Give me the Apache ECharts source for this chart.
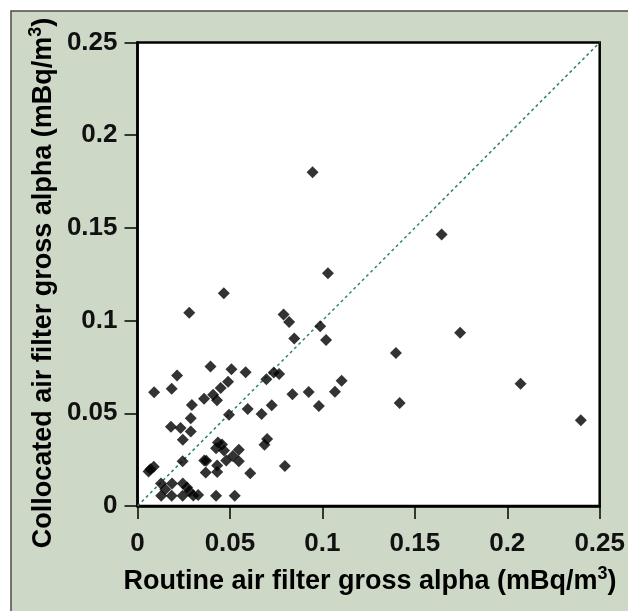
<!DOCTYPE html>
<html>
<head>
<meta charset="utf-8">
<script src="https://cdn.jsdelivr.net/npm/echarts@6/dist/echarts.min.js"></script>
<style>
html,body{margin:0;padding:0;background:#ffffff;}
#chart{width:628px;height:611px;}
</style>
</head>
<body>
<div id="chart"></div>
<script>
// Routine (x) vs collocated (y) gross alpha, mBq/m3
const routine = [
  0.0947,0.1645,0.1030,0.0467,0.0280,0.0790,0.0820,0.0988,0.0848,0.1020,
  0.1745,0.1398,0.0395,0.0508,0.0214,0.0585,0.0737,0.0766,0.0697,0.0490,
  0.1104,0.2072,0.0450,0.0185,0.0090,0.0926,0.1068,0.0409,0.0838,0.0360,
  0.0430,0.1418,0.0294,0.0726,0.0981,0.0596,0.0671,0.0495,0.0288,0.2398,
  0.0181,0.0233,0.0288,0.0245,0.0435,0.0457,0.0701,0.0687,0.0425,0.0468,
  0.0548,0.0516,0.0480,0.0548,0.0361,0.0372,0.0244,0.0431,0.0797,0.0088,
  0.0070,0.0060,0.0369,0.0431,0.0610,0.0127,0.0187,0.0245,0.0150,0.0268,
  0.0281,0.0128,0.0185,0.0244,0.0302,0.0328,0.0425,0.0526
];
const collocated = [
  0.1800,0.1465,0.1255,0.1148,0.1043,0.1033,0.0992,0.0970,0.0903,0.0895,
  0.0935,0.0825,0.0752,0.0738,0.0704,0.0722,0.0720,0.0712,0.0684,0.0670,
  0.0675,0.0660,0.0637,0.0633,0.0614,0.0615,0.0616,0.0600,0.0603,0.0578,
  0.0570,0.0555,0.0545,0.0544,0.0540,0.0523,0.0496,0.0492,0.0473,0.0462,
  0.0427,0.0421,0.0402,0.0358,0.0342,0.0332,0.0361,0.0331,0.0311,0.0299,
  0.0304,0.0270,0.0245,0.0241,0.0246,0.0244,0.0242,0.0218,0.0216,0.0212,
  0.0198,0.0186,0.0181,0.0183,0.0177,0.0122,0.0122,0.0122,0.0090,0.0100,
  0.0080,0.0055,0.0055,0.0055,0.0057,0.0060,0.0055,0.0055
];
const identityLine = [[0, 0], [0.25, 0.25]];
const tickValues = [0, 0.05, 0.1, 0.15, 0.2, 0.25];
const xTitleMain = 'Routine air filter gross alpha (mBq/m';
const yTitleMain = 'Collocated air filter gross alpha (mBq/m';
const titleSup = '3';
const titleEnd = ')';

const points = routine.map((x, i) => [x, collocated[i]]);
const fmt = v => {
  const s = tickValues.find(t => Math.abs(t - v) < 1e-9);
  return s === undefined ? '' : String(s);
};

const font = '"Liberation Sans", Arial, Helvetica, sans-serif';
const richTitle = {
  t: { fontFamily: font, fontWeight: 'bold', fontSize: 27, lineHeight: 30, color: '#111', verticalAlign: 'bottom' },
  s: { fontFamily: font, fontWeight: 'bold', fontSize: 18, lineHeight: 30, color: '#111', verticalAlign: 'top' }
};
const titleText = main => '{t|' + main + '}{s|' + titleSup + '}{t|' + titleEnd + '}';

const axisCommon = {
  type: 'value', min: 0, max: 0.25, interval: 0.05,
  axisLine: { show: true, onZero: false, lineStyle: { color: '#000', width: 2.5 } },
  axisTick: { show: true, inside: false, length: 13, lineStyle: { color: '#000', width: 1.5 } },
  axisLabel: { fontFamily: font, fontWeight: 'bold', fontSize: 26, color: '#111', formatter: fmt },
  splitLine: { show: false }
};

const chart = echarts.init(document.getElementById('chart'), null, { renderer: 'canvas' });
chart.setOption({
  animation: false,
  backgroundColor: '#ffffff',
  graphic: [
    {
      type: 'rect', z: -10, silent: true,
      shape: { x: 11, y: 11, width: 640, height: 640 },
      style: { fill: '#cdd8c7', stroke: '#4a4a4a', lineWidth: 1.5 }
    },
    {
      type: 'text', z: 10, silent: true, x: 370, y: 580,
      style: { text: titleText(xTitleMain), rich: richTitle, align: 'center', verticalAlign: 'middle' }
    },
    {
      type: 'text', z: 10, silent: true, x: 42, y: 283, rotation: Math.PI / 2,
      style: { text: titleText(yTitleMain), rich: richTitle, align: 'center', verticalAlign: 'middle' }
    }
  ],
  grid: {
    left: 137.5, top: 42.5, right: 25, bottom: 105,
    show: true, backgroundColor: '#ffffff', borderColor: '#000', borderWidth: 2.5
  },
  xAxis: Object.assign({}, axisCommon, {
    axisLabel: Object.assign({}, axisCommon.axisLabel, { margin: 25 })
  }),
  yAxis: Object.assign({}, axisCommon, {
    axisLabel: Object.assign({}, axisCommon.axisLabel, { margin: 20 })
  }),
  series: [
    {
      type: 'line', data: identityLine, symbol: 'none', silent: true, z: 1,
      lineStyle: { color: '#2f8466', width: 1.5, type: [3, 3] }
    },
    {
      type: 'scatter', data: points, symbol: 'diamond', symbolSize: 12, z: 2,
      itemStyle: { color: '#000' }
    }
  ]
});
</script>
</body>
</html>
